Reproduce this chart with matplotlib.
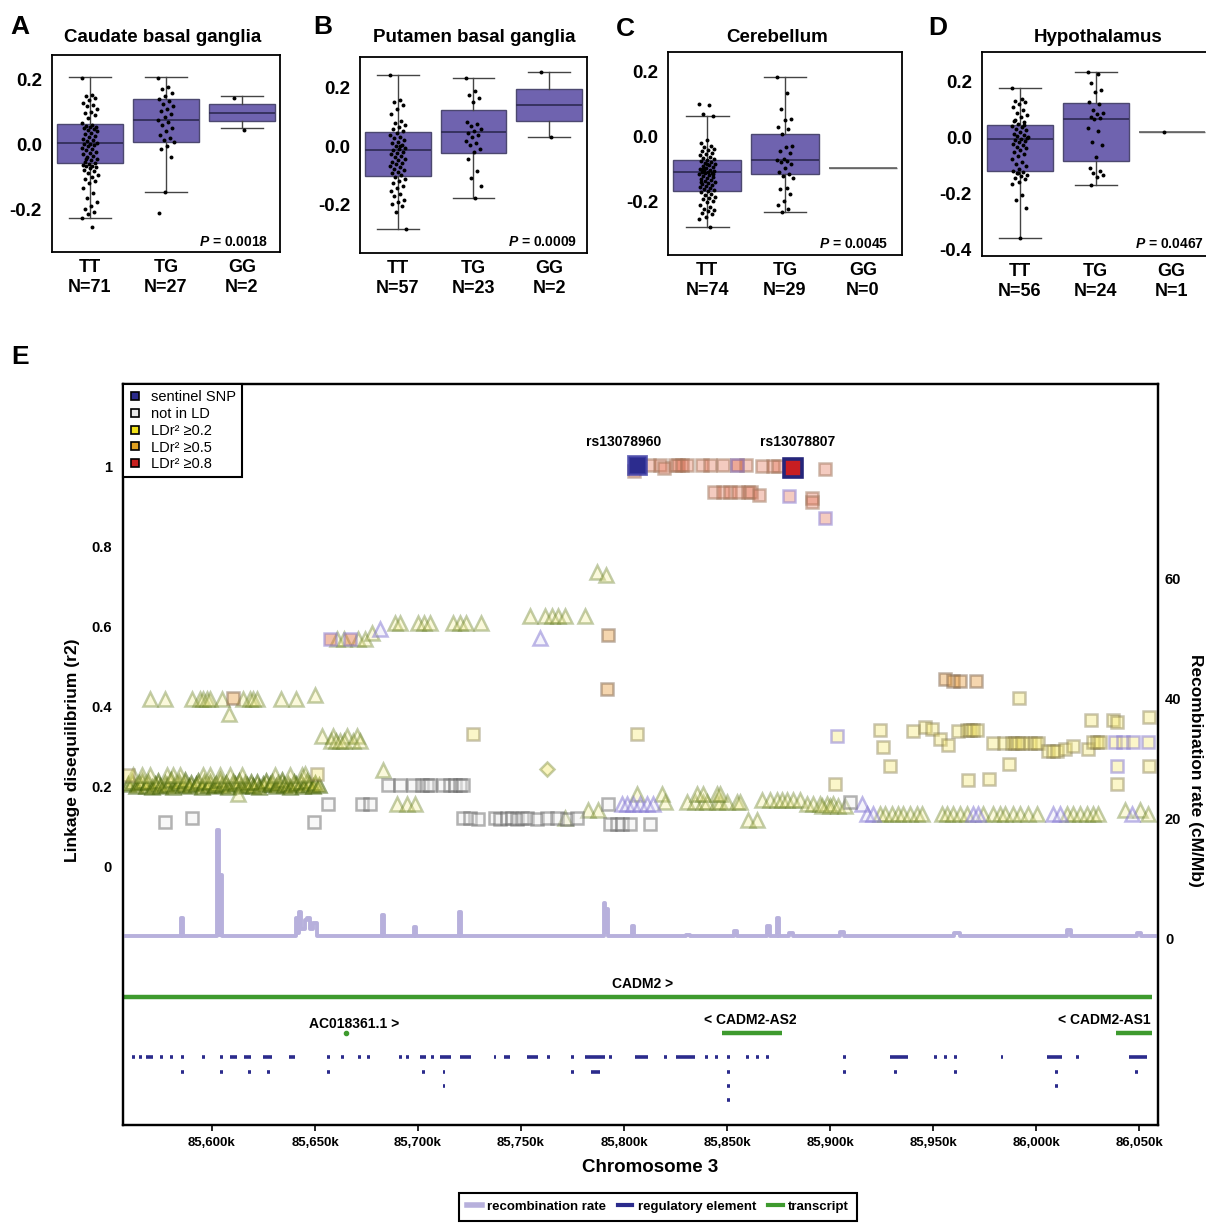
import matplotlib
matplotlib.use("Agg")
import matplotlib.pyplot as plt
from matplotlib.lines import Line2D

plt.rcParams["font.family"] = ["Liberation Sans", "DejaVu Sans"]
plt.rcParams["mathtext.fontset"] = "custom"
plt.rcParams["mathtext.it"] = "Liberation Sans:italic:bold"
plt.rcParams["mathtext.rm"] = "Liberation Sans:bold"

# ======================= DATA : panels A-D =======================
genotypes = ["TT", "TG", "GG"]
panel_letters = ["A", "B", "C", "D"]
panel_titles = ["Caudate basal ganglia", "Putamen basal ganglia", "Cerebellum", "Hypothalamus"]
panel_pvalues = ["0.0018", "0.0009", "0.0045", "0.0467"]
panel_counts = [[71, 27, 2], [57, 23, 2], [74, 29, 0], [56, 24, 1]]
panel_yticks = [[-0.2, 0.0, 0.2], [-0.2, 0.0, 0.2], [-0.2, 0.0, 0.2], [-0.4, -0.2, 0.0, 0.2]]

# box statistics: [q1, median, q3, whisker_low, whisker_high]
A_TT_box = [-0.058, 0.003, 0.062, -0.228, 0.208]
A_TG_box = [0.008, 0.075, 0.139, -0.148, 0.208]
A_GG_box = [0.073, 0.098, 0.124, 0.049, 0.149]
B_TT_box = [-0.102, -0.013, 0.049, -0.283, 0.244]
B_TG_box = [-0.023, 0.047, 0.123, -0.178, 0.232]
B_GG_box = [0.087, 0.141, 0.196, 0.030, 0.255]
C_TT_box = [-0.167, -0.108, -0.072, -0.278, 0.064]
C_TG_box = [-0.116, -0.074, 0.007, -0.234, 0.182]
C_GG_box = [-0.098, -0.098, -0.098, -0.098, -0.098]
D_TT_box = [-0.119, -0.004, 0.044, -0.359, 0.176]
D_TG_box = [-0.083, 0.066, 0.122, -0.169, 0.233]
D_GG_box = [0.019, 0.019, 0.019, 0.019, 0.019]

A_TT_pts = [0.205, 0.152, 0.150, 0.143, 0.138, 0.128, 0.122, 0.118, 0.110, 0.101,
            0.097, 0.089, 0.082, 0.066, 0.060, 0.058, 0.055, 0.052, 0.049, 0.046,
            0.043, 0.040, 0.036, 0.031, 0.027, 0.022, 0.018, 0.013, 0.009, 0.005,
            0.002, 0.000, -0.003, -0.006, -0.010, -0.014, -0.018, -0.022, -0.026, -0.030,
            -0.035, -0.040, -0.044, -0.049, -0.053, -0.056, -0.059, -0.062, -0.065, -0.068,
            -0.071, -0.074, -0.078, -0.083, -0.088, -0.094, -0.101, -0.108, -0.114, -0.120,
            -0.133, -0.150, -0.165, -0.178, -0.190, -0.200, -0.208, -0.215, -0.228, -0.254,
            -0.045]
A_TG_pts = [0.205, 0.178, 0.170, 0.158, 0.150, 0.139, 0.133, 0.125, 0.118, 0.110,
            0.103, 0.095, 0.085, 0.075, 0.070, 0.060, 0.050, 0.040, 0.030, 0.020,
            0.012, 0.008, -0.005, -0.015, -0.040, -0.148, -0.210]
A_GG_pts = [0.142, 0.044]
B_TT_pts = [0.244, 0.158, 0.150, 0.140, 0.128, 0.110, 0.085, 0.078, 0.072, 0.066,
            0.058, 0.050, 0.044, 0.038, 0.032, 0.027, 0.021, 0.015, 0.010, 0.004,
            -0.001, -0.006, -0.011, -0.015, -0.019, -0.024, -0.028, -0.033, -0.038, -0.043,
            -0.048, -0.053, -0.058, -0.063, -0.068, -0.073, -0.078, -0.083, -0.088, -0.093,
            -0.098, -0.105, -0.112, -0.120, -0.128, -0.136, -0.145, -0.155, -0.165, -0.172,
            -0.185, -0.192, -0.198, -0.205, -0.225, -0.283, 0.000]
B_TG_pts = [0.232, 0.190, 0.175, 0.165, 0.150, 0.082, 0.076, 0.068, 0.060, 0.050,
            0.045, 0.038, 0.030, 0.018, 0.010, 0.004, -0.010, -0.020, -0.045, -0.085,
            -0.110, -0.138, -0.178]
B_GG_pts = [0.255, 0.030]
C_TT_pts = [0.099, 0.097, 0.068, 0.064, -0.012, -0.020, -0.028, -0.033, -0.038, -0.042,
            -0.046, -0.050, -0.054, -0.058, -0.062, -0.066, -0.069, -0.072, -0.075, -0.078,
            -0.081, -0.084, -0.087, -0.090, -0.093, -0.096, -0.099, -0.102, -0.104, -0.106,
            -0.108, -0.110, -0.112, -0.114, -0.117, -0.120, -0.123, -0.126, -0.129, -0.132,
            -0.135, -0.138, -0.141, -0.144, -0.147, -0.150, -0.153, -0.156, -0.159, -0.162,
            -0.165, -0.168, -0.172, -0.176, -0.180, -0.185, -0.190, -0.194, -0.198, -0.202,
            -0.210, -0.218, -0.222, -0.226, -0.230, -0.235, -0.240, -0.247, -0.255, -0.278,
            -0.100, -0.115, -0.085, -0.140]
C_TG_pts = [0.182, 0.133, 0.085, 0.055, 0.050, 0.030, 0.024, 0.006, -0.028, -0.034,
            -0.045, -0.052, -0.068, -0.072, -0.076, -0.080, -0.086, -0.098, -0.108, -0.116,
            -0.122, -0.128, -0.160, -0.162, -0.178, -0.200, -0.212, -0.222, -0.234]
C_GG_pts = []
D_TT_pts = [0.176, 0.138, 0.132, 0.126, 0.118, 0.108, 0.098, 0.088, 0.080, 0.072,
            0.064, 0.055, 0.048, 0.042, 0.037, 0.032, 0.026, 0.020, 0.014, 0.009,
            0.004, 0.000, -0.004, -0.008, -0.012, -0.017, -0.022, -0.027, -0.032, -0.038,
            -0.044, -0.050, -0.058, -0.066, -0.075, -0.088, -0.095, -0.102, -0.112, -0.118,
            -0.122, -0.127, -0.132, -0.138, -0.143, -0.148, -0.160, -0.165, -0.205, -0.222,
            -0.252, -0.359, 0.060, 0.045, -0.125, 0.003]
D_TG_pts = [0.233, 0.226, 0.193, 0.170, 0.164, 0.125, 0.120, 0.098, 0.088, 0.084,
            0.075, 0.070, 0.065, 0.035, 0.023, -0.015, -0.026, -0.070, -0.110, -0.118,
            -0.127, -0.132, -0.140, -0.169]
D_GG_pts = [0.019]

panel_boxes = [[A_TT_box, A_TG_box, A_GG_box], [B_TT_box, B_TG_box, B_GG_box],
               [C_TT_box, C_TG_box, C_GG_box], [D_TT_box, D_TG_box, D_GG_box]]
panel_points = [[A_TT_pts, A_TG_pts, A_GG_pts], [B_TT_pts, B_TG_pts, B_GG_pts],
                [C_TT_pts, C_TG_pts, C_GG_pts], [D_TT_pts, D_TG_pts, D_GG_pts]]

# ======================= DATA : panel E =======================
xtick_kb = [85600, 85650, 85700, 85750, 85800, 85850, 85900, 85950, 86000, 86050]
xtick_labels = ["85,600k", "85,650k", "85,700k", "85,750k", "85,800k",
                "85,850k", "85,900k", "85,950k", "86,000k", "86,050k"]
ld_ticks = [0, 0.2, 0.4, 0.6, 0.8, 1.0]
ld_tick_labels = ["0", "0.2", "0.4", "0.6", "0.8", "1"]
rec_ticks = [0, 20, 40, 60]

sentinel_names = ["rs13078960", "rs13078807"]
sentinel_kb = [85806.3, 85882.0]
sentinel_r2 = [1.005, 0.9975]

# LD >= 0.8 squares
red_sq_kb = [85804.8, 85812.3, 85817.5, 85819.4, 85824.7, 85826.3, 85828.0, 85830.4, 85837.7,
             85841.7, 85847.9, 85854.7, 85859.2, 85866.8, 85872.5, 85874.9, 85897.6,
             85843.7, 85848.2, 85851.4, 85855.5, 85860.3, 85861.5, 85865.5, 85891.4, 85891.4]
red_sq_r2 = [0.99, 1.005, 1.005, 0.998, 1.005, 1.005, 1.005, 1.005, 1.005,
             1.005, 1.005, 1.005, 1.005, 1.003, 1.003, 1.003, 0.995,
             0.936, 0.936, 0.936, 0.936, 0.936, 0.936, 0.93, 0.922, 0.911]
red_sq_purple_kb = [85880.2, 85897.6, 85854.7]
red_sq_purple_r2 = [0.926, 0.873, 1.005]

# LD >= 0.5 squares
orange_sq_kb = [85955.8, 85959.8, 85963.1, 85970.8, 85792.2, 85791.7, 85610.3]
orange_sq_r2 = [0.469, 0.465, 0.465, 0.465, 0.58, 0.445, 0.422]
orange_sq_purple_kb = [85657.3, 85667.0]
orange_sq_purple_r2 = [0.57, 0.57]

# LD >= 0.2 squares
yellow_sq_kb = [85559.4, 85650.8, 85726.8, 85806.3, 85902.4, 85924.3, 85925.9, 85929.2, 85940.4,
                85946.1, 85949.3, 85953.4, 85957.1, 85962.2, 85966.3, 85967.9, 85969.5, 85971.2,
                85967.1, 85977.3, 85991.9, 85978.9, 85984.6, 85988.2, 85989.8, 85991.4, 85993.0,
                85997.1, 85999.5, 86001.1, 85987.0, 86005.9, 86008.4, 86010.0, 86014.0, 86018.1,
                86025.4, 86026.5, 86027.8, 86029.4, 86031.0, 86037.5, 86039.1, 86039.4, 86054.8,
                86054.8]
yellow_sq_r2 = [0.2275, 0.232, 0.332, 0.3325, 0.207, 0.342, 0.30, 0.25, 0.338,
                0.348, 0.344, 0.319, 0.305, 0.34, 0.342, 0.342, 0.342, 0.342,
                0.215, 0.219, 0.4217, 0.31, 0.31, 0.31, 0.31, 0.31, 0.31,
                0.31, 0.31, 0.31, 0.255, 0.29, 0.29, 0.29, 0.294, 0.3025,
                0.294, 0.367, 0.3125, 0.3125, 0.3125, 0.367, 0.361, 0.205, 0.373,
                0.25]
yellow_sq_purple_kb = [85903.2, 86038.3, 86042.3, 86047.2, 86054.5, 86039.1]
yellow_sq_purple_r2 = [0.3275, 0.3125, 0.3125, 0.3125, 0.3125, 0.25]

# not in LD squares
grey_sq_kb = [85685.6, 85691.3, 85697.7, 85701.8, 85704.2, 85705.8, 85712.3, 85715.5, 85718.0,
              85720.4, 85722.0, 85656.5, 85672.7, 85676.7, 85577.2, 85590.1, 85649.7,
              85722.0, 85725.2, 85729.3, 85737.4, 85739.8, 85743.0, 85745.5, 85747.9, 85750.3,
              85752.8, 85757.6, 85762.5, 85767.3, 85772.2, 85777.0, 85792.4, 85793.2, 85796.4,
              85798.9, 85802.9, 85812.6, 85909.7]
grey_sq_r2 = [0.2025, 0.2025, 0.2025, 0.2025, 0.2025, 0.2025, 0.2025, 0.2025, 0.2025,
              0.2025, 0.2025, 0.155, 0.155, 0.155, 0.11, 0.12, 0.11,
              0.1215, 0.1215, 0.118, 0.1215, 0.118, 0.1215, 0.1215, 0.118, 0.1215,
              0.1215, 0.118, 0.1215, 0.1215, 0.118, 0.1215, 0.157, 0.107, 0.107,
              0.107, 0.107, 0.107, 0.161]

# LD >= 0.2 triangles (dense block + scattered)
band_kb = [85559, 85561, 85563, 85564.5, 85566, 85568, 85569, 85571, 85572.5, 85574,
           85575, 85577, 85578, 85580, 85581, 85583, 85584, 85586, 85587, 85589,
           85590, 85592, 85593, 85595, 85596, 85598, 85599, 85601, 85602, 85604,
           85605, 85607, 85608, 85610, 85611, 85613, 85614, 85616, 85617, 85619,
           85620, 85622, 85623, 85625, 85626, 85628, 85629, 85631, 85632, 85634,
           85635, 85637, 85638, 85640, 85641, 85643, 85644, 85646, 85647, 85649,
           85650, 85652]
band_r2 = [0.205, 0.212, 0.200, 0.208, 0.214, 0.202, 0.210, 0.198, 0.206, 0.213,
           0.201, 0.209, 0.204, 0.215, 0.199, 0.207, 0.211, 0.203, 0.216, 0.200,
           0.208, 0.205, 0.213, 0.198, 0.210, 0.204, 0.212, 0.201, 0.207, 0.215,
           0.203, 0.209, 0.199, 0.211, 0.206, 0.214, 0.200, 0.208, 0.204, 0.212,
           0.202, 0.210, 0.198, 0.207, 0.213, 0.205, 0.211, 0.201, 0.209, 0.216,
           0.203, 0.207, 0.199, 0.212, 0.205, 0.210, 0.202, 0.214, 0.206, 0.200,
           0.209, 0.204]
tri_kb = [85561.8, 85565.9, 85569.9, 85578.0, 85581.2, 85584.5, 85595.8, 85599.0, 85603.9,
          85608.7, 85614.4, 85630.6, 85637.9, 85643.5, 85645.1, 85612.8, 85683.1,
          85569.9, 85577.2, 85590.1, 85594.2, 85595.8, 85597.4, 85599.0, 85604.7, 85615.2,
          85618.4, 85620.0, 85622.0, 85633.3, 85640.8, 85650.0, 85608.4,
          85653.2, 85658.9, 85665.4, 85670.2, 85657.6, 85660.0, 85662.1, 85664.0, 85668.6, 85671.8,
          85660.7, 85664.1, 85670.9, 85674.3, 85677.7,
          85688.8, 85691.3, 85700.0, 85702.9, 85705.8, 85717.0, 85720.4, 85723.3, 85730.6,
          85754.4, 85761.6, 85765.0, 85768.0, 85771.3, 85781.1, 85786.9, 85791.3,
          85689.7, 85694.5, 85698.5, 85771.3, 85782.7, 85787.5,
          85806.1, 85818.3, 85819.9,
          85830.4, 85834.4, 85838.5, 85840.1, 85845.0, 85846.6, 85849.8, 85854.7, 85856.3,
          85835.3, 85838.5, 85845.0, 85846.6, 85860.3, 85864.4,
          85866.8, 85870.8, 85874.1, 85876.6, 85879.0, 85882.2, 85885.4,
          85888.7, 85891.9, 85895.1, 85898.4, 85901.6, 85896.0, 85899.9, 85903.8, 85907.2,
          85924.3, 85926.7, 85929.9, 85933.1, 85935.6, 85938.8, 85942.1, 85944.5, 85954.2,
          85956.6, 85959.8, 85963.1, 85966.3, 85974.4, 85979.2, 85982.5, 85984.9, 85988.9,
          85992.2, 85996.2, 86000.3, 86014.9, 86018.1, 86021.3, 86024.6, 86027.8, 86030.2,
          86043.2, 86050.5, 86054.5]
tri_r2 = [0.228, 0.228, 0.228, 0.228, 0.228, 0.228, 0.228, 0.228, 0.228,
          0.228, 0.228, 0.228, 0.228, 0.228, 0.232, 0.18, 0.24,
          0.419, 0.419, 0.419, 0.419, 0.419, 0.419, 0.419, 0.419, 0.419,
          0.419, 0.419, 0.419, 0.419, 0.419, 0.43, 0.381,
          0.3275, 0.3275, 0.3275, 0.3275, 0.315, 0.315, 0.315, 0.315, 0.315, 0.315,
          0.57, 0.57, 0.57, 0.57, 0.585,
          0.61, 0.61, 0.61, 0.61, 0.61, 0.61, 0.61, 0.61, 0.61,
          0.6275, 0.6275, 0.6275, 0.6275, 0.6275, 0.6275, 0.7375, 0.73,
          0.155, 0.155, 0.155, 0.12, 0.14, 0.14,
          0.18, 0.18, 0.161,
          0.161, 0.161, 0.161, 0.161, 0.161, 0.161, 0.161, 0.161, 0.161,
          0.18, 0.18, 0.18, 0.18, 0.115, 0.115,
          0.165, 0.165, 0.165, 0.165, 0.165, 0.165, 0.165,
          0.157, 0.157, 0.157, 0.157, 0.157, 0.15, 0.15, 0.15, 0.15,
          0.1317, 0.1317, 0.1317, 0.1317, 0.1317, 0.1317, 0.1317, 0.1317, 0.1317,
          0.1317, 0.1317, 0.1317, 0.1317, 0.1317, 0.1317, 0.1317, 0.1317, 0.1317,
          0.1317, 0.1317, 0.1317, 0.1317, 0.1317, 0.1317, 0.1317, 0.1317, 0.1317,
          0.14, 0.14, 0.13]
# triangles with purple outline
tri_purple_kb = [85681.6, 85759.2, 85798.9, 85801.3, 85804.5, 85807.8, 85811.0, 85814.2,
                 85915.3, 85917.8, 85921.0, 85969.5, 85972.0, 86008.4, 86011.6, 86046.4]
tri_purple_r2 = [0.595, 0.5725, 0.157, 0.157, 0.157, 0.157, 0.157, 0.157,
                 0.157, 0.1317, 0.1317, 0.1317, 0.1317, 0.1317, 0.1317, 0.1317]
diamond_kb = [85762.8]
diamond_r2 = [0.244]

# recombination rate (cM/Mb), step values starting at each position
rec_kb = [85556, 85584.8, 85585.8, 85602.5, 85603.3, 85604.0, 85604.8, 85640.6, 85641.4, 85642.2,
          85643.0, 85645.0, 85646.0, 85647.5, 85649.0, 85651.0, 85682.6, 85683.4, 85698.0, 85698.8,
          85720.0, 85720.8, 85790.2, 85791.0, 85791.6, 85792.4, 85804.0, 85805.0, 85830.0, 85832.0,
          85853.5, 85855.0, 85869.5, 85871.0, 85874.3, 85875.1, 85880, 85882, 85905, 85907,
          85960, 85963, 86015, 86017, 86049, 86051, 86060]
rec_cm = [0.3, 3.3, 0.3, 18.0, 0.6, 10.5, 0.3, 3.3, 0.8, 4.3,
          1.5, 3.0, 3.3, 1.5, 2.5, 0.3, 3.8, 0.3, 1.8, 0.3,
          4.3, 0.3, 5.8, 1.0, 4.8, 0.3, 2.0, 0.3, 0.6, 0.3,
          1.2, 0.3, 2.0, 0.3, 3.3, 0.3, 0.8, 0.3, 1.0, 0.3,
          0.8, 0.3, 1.3, 0.3, 0.9, 0.3, 0.3]

# transcripts
gene_labels = ["CADM2 >", "AC018361.1 >", "< CADM2-AS2", "< CADM2-AS1"]
gene_start = [85556.8, 85664.6, 85847.6, 86038.8]
gene_end = [86056.3, 85665.4, 85876.8, 86056.3]
gene_row = [0, 1, 1, 1]
gene_label_kb = [85809.2, 85668.9, 85861.2, 86033.0]

# regulatory elements: start, end (kb), row
reg_start = [85561.8, 85565.1, 85568.9, 85575.6, 85580.4, 85585.8, 85595.8, 85604.7, 85609.6, 85616.0,
             85625.7, 85637.9, 85656.5, 85663.4, 85671.5, 85675.9, 85691.7, 85694.8, 85701.8, 85707.1,
             85711.5, 85721.2, 85737.4, 85742.2, 85753.5, 85763.2, 85775.1, 85781.9, 85793.5, 85806.2,
             85820.3, 85826.0, 85840.2, 85844.9, 85850.6, 85860.0, 85864.7, 85869.8, 85907.2, 85929.8,
             85951.4, 85956.2, 85960.9, 85983.5, 86006.1, 86020.3, 86045.7,
             85585.8, 85604.7, 85618.1, 85627.3, 85656.5, 85702.6, 85712.6, 85775.1, 85784.8, 85850.6,
             85907.2, 85931.7, 85960.9, 86009.9, 86048.6,
             85712.6, 85850.6, 86009.9,
             85850.6]
reg_end = [85561.8, 85565.1, 85570.7, 85575.6, 85580.4, 85585.8, 85595.8, 85604.7, 85611.2, 85618.4,
           85628.2, 85639.5, 85656.5, 85663.4, 85671.5, 85675.9, 85691.7, 85694.8, 85703.4, 85707.1,
           85715.5, 85725.2, 85737.4, 85743.8, 85757.6, 85763.2, 85775.1, 85789.9, 85793.5, 85811.0,
           85820.3, 85833.6, 85840.2, 85844.9, 85850.6, 85860.0, 85864.7, 85869.8, 85907.2, 85937.3,
           85951.4, 85956.2, 85960.9, 85983.5, 86011.8, 86020.3, 86053.3,
           85585.8, 85604.7, 85618.1, 85627.3, 85656.5, 85702.6, 85712.6, 85775.1, 85787.5, 85850.6,
           85907.2, 85931.7, 85960.9, 86009.9, 86048.6,
           85712.6, 85850.6, 86009.9,
           85850.6]
reg_row = [0] * 47 + [1] * 15 + [2] * 3 + [3]

legend_ld_labels = ["sentinel SNP", "not in LD", "LDr² ≥0.2", "LDr² ≥0.5", "LDr² ≥0.8"]
legend_track_labels = ["recombination rate", "regulatory element", "transcript"]

# ======================= STYLE / LAYOUT =======================
W, H = 1206, 1223
fig = plt.figure(figsize=(W / 100, H / 100), dpi=100)

def frect(l, t, r, b):
    return [l / W, 1 - b / H, (r - l) / W, (b - t) / H]

top_rects = [frect(51.7, 55, 280, 252.3), frect(360, 56.7, 587, 252.7),
             frect(668.3, 52.3, 901.7, 255), frect(981.7, 51.7, 1209.7, 256)]
top_ylims = [(-0.332, 0.275), (-0.365, 0.306), (-0.365, 0.259), (-0.422, 0.306)]
letter_pos = [(20, 27), (323, 27), (625, 29), (938, 28)]
title_pos = [(163, 37), (474, 37), (777, 38), (1098, 38)]
p_pos = [(0.947, 0.052), (0.956, 0.055), (0.941, 0.054), (0.975, 0.059)]

BOX_FACE = "#6F63AF"
BOX_EDGE = "#4C4870"

def jitter(n):
    return [((k * 0.6180339) % 1.0 - 0.5) * 0.21 for k in range(n)]

for i in range(4):
    ax = fig.add_axes(top_rects[i])
    for j in range(3):
        q1, med, q3, lo, hi = panel_boxes[i][j]
        stats = [{"med": med, "q1": q1, "q3": q3, "whislo": lo, "whishi": hi, "fliers": []}]
        degenerate = (q1 == q3)
        ax.bxp(stats, positions=[j], widths=0.87, patch_artist=True, showfliers=False,
               showcaps=not degenerate, capwidths=0.55,
               boxprops=dict(facecolor=BOX_FACE, edgecolor=("#666666" if degenerate else BOX_EDGE), linewidth=1.0),
               medianprops=dict(color=("#666666" if degenerate else "#2E2A52"), linewidth=1.2),
               whiskerprops=dict(color="#444444", linewidth=1.0),
               capprops=dict(color="#444444", linewidth=1.0))
        pts = panel_points[i][j]
        if pts:
            xs = [j + d for d in jitter(len(pts))]
            ax.scatter(xs, pts, s=8, color="black", zorder=5, linewidths=0)
    ax.set_xlim(-0.5, 2.5)
    ax.set_ylim(*top_ylims[i])
    ax.set_yticks(panel_yticks[i])
    ax.set_yticklabels([f"{v:.1f}" for v in panel_yticks[i]], fontsize=13.5, fontweight="bold")
    ax.set_xticks([0, 1, 2])
    ax.set_xticklabels([f"{g}\nN={n}" for g, n in zip(genotypes, panel_counts[i])],
                       fontsize=13, fontweight="bold", linespacing=1.25)
    ax.tick_params(axis="both", length=0)
    ax.tick_params(axis="y", pad=7)
    ax.tick_params(axis="x", pad=5)
    for s in ax.spines.values():
        s.set_linewidth(1.3)
    ax.text(p_pos[i][0], p_pos[i][1], f"$P$ = {panel_pvalues[i]}", transform=ax.transAxes,
            ha="right", va="center", fontsize=10, fontweight="bold")
    fig.text(letter_pos[i][0] / W, 1 - letter_pos[i][1] / H, panel_letters[i],
             fontsize=19, fontweight="bold", ha="center", va="center")
    fig.text(title_pos[i][0] / W, 1 - title_pos[i][1] / H, panel_titles[i],
             fontsize=13.5, fontweight="bold", ha="center", va="center")

# ---------------- panel E ----------------
axE = fig.add_axes(frect(123, 384, 1158, 1125))
axE.set_xlim(85556.8, 86059.2)
axE.set_ylim(-0.6475, 1.2075)
axR = axE.twinx()
axR.set_ylim(-31.17, 92.5)

REC_C = "#B7B0DC"
GREEN = "#3E9A2E"
NAVY = "#2B2B8C"

axR.plot(rec_kb, rec_cm, drawstyle="steps-post", color=REC_C, lw=2.8, zorder=1)

def snp(kb, r2, marker, ms, face, edge, mew=1.8, z=3):
    axE.plot(kb, r2, ls="none", marker=marker, ms=ms, mfc=face, mec=edge, mew=mew, zorder=z)

TRI_FACE = (0.96, 0.93, 0.55, 0.30)
TRI_EDGE = (0.38, 0.48, 0.12, 0.38)
BAND_EDGE = (0.26, 0.38, 0.04, 0.55)
PUR_EDGE = (0.50, 0.45, 0.82, 0.50)

snp(band_kb, band_r2, "^", 10, (0.80, 0.80, 0.25, 0.40), BAND_EDGE)
snp(tri_kb, tri_r2, "^", 10, TRI_FACE, TRI_EDGE)
snp(tri_purple_kb, tri_purple_r2, "^", 10, (0.88, 0.86, 0.96, 0.30), PUR_EDGE)
snp(grey_sq_kb, grey_sq_r2, "s", 8, (0.92, 0.92, 0.92, 0.35), (0.35, 0.35, 0.35, 0.45))
snp(yellow_sq_kb, yellow_sq_r2, "s", 8, (0.96, 0.90, 0.40, 0.35), (0.50, 0.46, 0.28, 0.42))
snp(yellow_sq_purple_kb, yellow_sq_purple_r2, "s", 8, (0.96, 0.90, 0.40, 0.35), PUR_EDGE)
snp(orange_sq_kb, orange_sq_r2, "s", 8, (0.90, 0.60, 0.22, 0.40), (0.50, 0.40, 0.30, 0.50))
snp(orange_sq_purple_kb, orange_sq_purple_r2, "s", 8, (0.88, 0.45, 0.25, 0.45), PUR_EDGE)
snp(red_sq_kb, red_sq_r2, "s", 8, (0.88, 0.42, 0.30, 0.35), (0.62, 0.45, 0.35, 0.50))
snp(red_sq_purple_kb, red_sq_purple_r2, "s", 8, (0.88, 0.42, 0.30, 0.35), PUR_EDGE)
snp(diamond_kb, diamond_r2, "D", 7, (0.96, 0.92, 0.45, 0.45), (0.55, 0.6, 0.3, 0.5))
# sentinels
axE.plot(sentinel_kb[:1], sentinel_r2[:1], ls="none", marker="s", ms=13, mfc="#2C2C8E",
         mec=(0.25, 0.25, 0.65, 0.8), mew=2, zorder=6)
axE.plot(sentinel_kb[1:], sentinel_r2[1:], ls="none", marker="s", ms=13, mfc="#C81E22",
         mec="#25257A", mew=2.6, zorder=6)
for kb, name in zip(sentinel_kb, sentinel_names):
    axE.text(kb - (6.3 if name == "rs13078960" else -2.5), 1.0625, name, ha="center", va="center",
             fontsize=10, fontweight="bold", zorder=7)

# transcripts
gene_line_y = [-0.3275, -0.4175]
gene_text_y = [-0.295, -0.385]
for lab, s, e, r, lk in zip(gene_labels, gene_start, gene_end, gene_row, gene_label_kb):
    if e - s < 2:
        axE.plot([(s + e) / 2], [gene_line_y[r]], marker="o", ms=3, color=GREEN, ls="none")
    else:
        axE.plot([s, e], [gene_line_y[r]] * 2, color=GREEN, lw=3.2, solid_capstyle="butt")
    ty = gene_text_y[r] - (0.01 if lab.startswith("AC") else 0)
    axE.text(lk, ty, lab, ha="center", va="center", fontsize=10, fontweight="bold")

# regulatory elements
reg_y = [-0.4775, -0.514, -0.55, -0.585]
for s, e, r in zip(reg_start, reg_end, reg_row):
    axE.plot([s - 0.7, e + 0.7], [reg_y[r]] * 2, color=NAVY, lw=2.6, solid_capstyle="butt")

# axes formatting
axE.set_xticks(xtick_kb)
axE.set_xticklabels(xtick_labels, fontsize=9.5, fontweight="bold")
axE.tick_params(axis="x", length=4, width=1.2, pad=5)
axE.set_yticks(ld_ticks)
axE.set_yticklabels(ld_tick_labels, fontsize=10.5, fontweight="bold")
axE.tick_params(axis="y", length=0, pad=8)
axR.set_yticks(rec_ticks)
axR.set_yticklabels([str(v) for v in rec_ticks], fontsize=10.5, fontweight="bold")
axR.tick_params(axis="y", length=0, pad=5)
for a in (axE, axR):
    for s in a.spines.values():
        s.set_linewidth(1.6)

fig.text(20 / W, 1 - 357 / H, "E", fontsize=19, fontweight="bold", ha="center", va="center")
fig.text(72 / W, 1 - 750 / H, "Linkage disequilibrium (r2)", rotation=90, fontsize=12.5,
         fontweight="bold", ha="center", va="center")
fig.text(1195 / W, 1 - 770 / H, "Recombination rate (cM/Mb)", rotation=270, fontsize=12.5,
         fontweight="bold", ha="center", va="center")
fig.text(650 / W, 1 - 1167 / H, "Chromosome 3", fontsize=13.5, fontweight="bold",
         ha="center", va="center")

# LD legend
ld_colors = ["#2A2A8A", "#EBEBEB", "#F2E21A", "#E0A020", "#C8201E"]
ld_handles = [Line2D([0], [0], ls="none", marker="s", ms=6, mfc=c, mec="black", mew=1.2)
              for c in ld_colors]
leg = axR.legend(ld_handles, legend_ld_labels, loc="upper left", bbox_to_anchor=(0, 1),
                 borderaxespad=0, fancybox=False, framealpha=1, edgecolor="black",
                 prop={"size": 10.5}, handlelength=0.8, handletextpad=0.75,
                 labelspacing=0.2, borderpad=0.4)
leg.get_frame().set_linewidth(1.5)

# track legend
tr_handles = [Line2D([0], [0], color=REC_C, lw=4),
              Line2D([0], [0], color=NAVY, lw=3),
              Line2D([0], [0], color=GREEN, lw=3)]
leg2 = fig.legend(tr_handles, legend_track_labels, loc="upper center",
                  bbox_to_anchor=(658 / W, 1 - 1186 / H), ncol=3, fancybox=False,
                  framealpha=1, edgecolor="black",
                  prop={"size": 9.5, "weight": "bold"}, handlelength=1.1,
                  handletextpad=0.4, columnspacing=0.9, borderpad=0.6)
leg2.get_frame().set_linewidth(1.5)

fig.savefig("out.png", dpi=100)
